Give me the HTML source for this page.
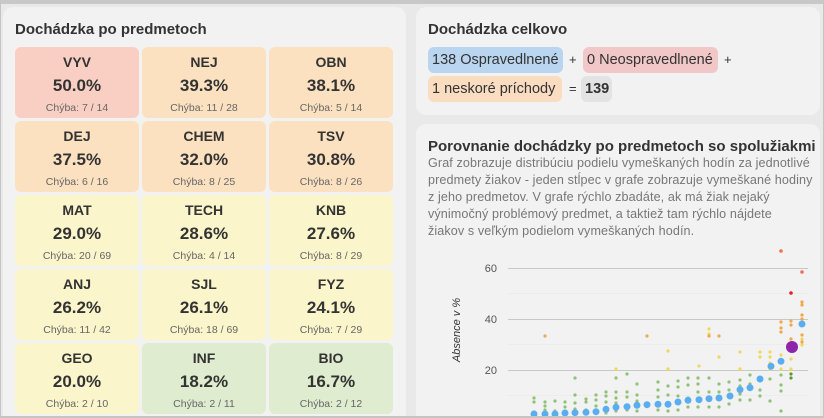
<!DOCTYPE html>
<html style="width:824px;height:418px;overflow:hidden"><head><meta charset="utf-8"><style>
body{margin:0;width:824px;height:418px;overflow:hidden;background:#e9e9e9;font-family:"Liberation Sans",sans-serif;color:#333;position:relative}
.frame{position:absolute;left:0;top:0;border:1px solid #c4c4c4;border-top:4px solid #c8c8c8;border-bottom:2px solid #c4c4c4;box-sizing:border-box;width:824px;height:418px;z-index:5}
.panel{position:absolute;background:#f2f2f2;border-radius:10px}
h2{margin:0;font-size:15px;font-weight:bold;color:#333;position:absolute}
.t{position:absolute;width:124px;height:71px;border-radius:6px;text-align:center}
.t .n{position:absolute;top:7px;width:100%;font-size:14px;font-weight:bold}
.t .p{position:absolute;top:29px;width:100%;font-size:17px;font-weight:bold}
.t .c{position:absolute;top:55px;width:100%;font-size:10.5px;color:#666}
.r{background:#f9cfc3}.o{background:#fbe1c0}.y{background:#faf5cb}.g{background:#dfeccf}
.pill{position:absolute;height:26px;line-height:26px;border-radius:6px;font-size:14.5px;padding:0 4px;box-sizing:border-box;white-space:nowrap}
.op{position:absolute;font-size:13px;line-height:26px}
.desc{position:absolute;left:428px;top:155px;width:390px;font-size:12.6px;line-height:17px;color:#777;white-space:nowrap;letter-spacing:0.1px}
</style></head><body>
<div class="frame"></div>
<div class="panel" style="left:3px;top:7px;width:403px;height:411px;border-radius:10px 10px 0 0"></div>
<h2 style="left:15px;top:21px">Dochádzka po predmetoch</h2>

<div class="t r" style="left:15px;top:47px"><div class="n">VYV</div><div class="p">50.0%</div><div class="c">Chýba: 7 / 14</div></div>
<div class="t o" style="left:142px;top:47px"><div class="n">NEJ</div><div class="p">39.3%</div><div class="c">Chýba: 11 / 28</div></div>
<div class="t o" style="left:269px;top:47px"><div class="n">OBN</div><div class="p">38.1%</div><div class="c">Chýba: 5 / 14</div></div>
<div class="t o" style="left:15px;top:121px"><div class="n">DEJ</div><div class="p">37.5%</div><div class="c">Chýba: 6 / 16</div></div>
<div class="t o" style="left:142px;top:121px"><div class="n">CHEM</div><div class="p">32.0%</div><div class="c">Chýba: 8 / 25</div></div>
<div class="t o" style="left:269px;top:121px"><div class="n">TSV</div><div class="p">30.8%</div><div class="c">Chýba: 8 / 26</div></div>
<div class="t y" style="left:15px;top:195px"><div class="n">MAT</div><div class="p">29.0%</div><div class="c">Chýba: 20 / 69</div></div>
<div class="t y" style="left:142px;top:195px"><div class="n">TECH</div><div class="p">28.6%</div><div class="c">Chýba: 4 / 14</div></div>
<div class="t y" style="left:269px;top:195px"><div class="n">KNB</div><div class="p">27.6%</div><div class="c">Chýba: 8 / 29</div></div>
<div class="t y" style="left:15px;top:269px"><div class="n">ANJ</div><div class="p">26.2%</div><div class="c">Chýba: 11 / 42</div></div>
<div class="t y" style="left:142px;top:269px"><div class="n">SJL</div><div class="p">26.1%</div><div class="c">Chýba: 18 / 69</div></div>
<div class="t y" style="left:269px;top:269px"><div class="n">FYZ</div><div class="p">24.1%</div><div class="c">Chýba: 7 / 29</div></div>
<div class="t y" style="left:15px;top:343px;height:71px"><div class="n">GEO</div><div class="p">20.0%</div><div class="c">Chýba: 2 / 10</div></div>
<div class="t g" style="left:142px;top:343px"><div class="n">INF</div><div class="p">18.2%</div><div class="c">Chýba: 2 / 11</div></div>
<div class="t g" style="left:269px;top:343px"><div class="n">BIO</div><div class="p">16.7%</div><div class="c">Chýba: 2 / 12</div></div>

<div class="panel" style="left:416px;top:7px;width:404px;height:108px"></div>
<h2 style="left:428px;top:21px">Dochádzka celkovo</h2>
<div class="pill" style="left:428px;top:47px;width:135px;background:#b9d5ef">138 Ospravedlnené</div>
<div class="op" style="left:569px;top:47px">+</div>
<div class="pill" style="left:583px;top:47px;width:135px;background:#f1c7c7">0 Neospravedlnené</div>
<div class="op" style="left:724px;top:47px">+</div>
<div class="pill" style="left:428px;top:76px;width:134px;background:#fadcc0">1 neskoré príchody</div>
<div class="op" style="left:569px;top:76px">=</div>
<div class="pill" style="left:581px;top:76px;width:31px;background:#e3e3e3;font-weight:bold">139</div>

<div class="panel" style="left:416px;top:124px;width:404px;height:294px;border-radius:10px 10px 0 0"></div>
<h2 style="left:428px;top:138px">Porovnanie dochádzky po predmetoch so spolužiakmi</h2>
<div class="desc">Graf zobrazuje distribúciu podielu vymeškaných hodín za jednotlivé<br>predmety žiakov - jeden stĺpec v grafe zobrazuje vymeškané hodiny<br>z jeho predmetov. V grafe rýchlo zbadáte, ak má žiak nejaký<br>výnimočný problémový predmet, a taktiež tam rýchlo nájdete<br>žiakov s veľkým podielom vymeškaných hodín.</div>

<svg style="position:absolute;left:0;top:0" width="824" height="418">
<g stroke="#ececec" stroke-width="1"><line x1="508" y1="293.5" x2="808" y2="293.5"/><line x1="508" y1="344.5" x2="808" y2="344.5"/><line x1="508" y1="395.5" x2="808" y2="395.5"/></g>
<g stroke="#c8c8c8" stroke-width="1"><line x1="508" y1="268.5" x2="808" y2="268.5"/><line x1="508" y1="319.5" x2="808" y2="319.5"/><line x1="508" y1="370.5" x2="808" y2="370.5"/></g>
<g font-size="11" fill="#555" text-anchor="end" font-family="Liberation Sans"><text x="497" y="272">60</text><text x="497" y="323">40</text><text x="497" y="374">20</text></g>
<text transform="translate(460,330) rotate(-90)" font-size="11" font-style="italic" fill="#333" text-anchor="middle" font-family="Liberation Sans">Absence v %</text>
<g fill="#8fc177">
<circle cx="534" cy="398" r="1.6"/><circle cx="534" cy="402" r="1.6"/><circle cx="534" cy="412" r="1.6"/>
<circle cx="545" cy="402" r="1.6"/><circle cx="545" cy="406" r="1.6"/><circle cx="545" cy="410" r="1.6"/>
<circle cx="555" cy="401" r="1.6"/><circle cx="555" cy="411" r="1.6"/>
<circle cx="565" cy="402" r="1.6"/><circle cx="565" cy="407" r="1.6"/><circle cx="565" cy="411" r="1.6"/>
<circle cx="575" cy="378" r="1.6"/><circle cx="575" cy="395" r="1.6"/><circle cx="575" cy="403" r="1.6"/><circle cx="575" cy="409" r="1.6"/>
<circle cx="586" cy="399" r="1.6"/><circle cx="586" cy="402" r="1.6"/><circle cx="586" cy="410" r="1.6"/>
<circle cx="596" cy="395" r="1.6"/><circle cx="596" cy="400" r="1.6"/><circle cx="596" cy="406" r="1.6"/>
<circle cx="606" cy="392" r="1.6"/><circle cx="606" cy="396" r="1.6"/><circle cx="606" cy="402" r="1.6"/><circle cx="606" cy="413" r="1.6"/>
<circle cx="616" cy="378" r="1.6"/><circle cx="616" cy="392" r="1.6"/><circle cx="616" cy="398" r="1.6"/><circle cx="616" cy="403" r="1.6"/><circle cx="616" cy="411" r="1.6"/>
<circle cx="627" cy="374" r="1.6"/><circle cx="627" cy="392" r="1.6"/><circle cx="627" cy="397" r="1.6"/><circle cx="627" cy="410" r="1.6"/>
<circle cx="637" cy="384" r="1.6"/><circle cx="637" cy="395" r="1.6"/><circle cx="637" cy="401" r="1.6"/><circle cx="637" cy="411" r="1.6"/>
<circle cx="658" cy="382" r="1.6"/><circle cx="658" cy="390" r="1.6"/><circle cx="658" cy="397" r="1.6"/><circle cx="658" cy="410" r="1.6"/>
<circle cx="668" cy="386" r="1.6"/><circle cx="668" cy="395" r="1.6"/><circle cx="668" cy="411" r="1.6"/>
<circle cx="678" cy="381" r="1.6"/><circle cx="678" cy="387" r="1.6"/><circle cx="678" cy="396" r="1.6"/><circle cx="678" cy="410" r="1.6"/>
<circle cx="688" cy="378" r="1.6"/><circle cx="688" cy="385" r="1.6"/><circle cx="688" cy="398" r="1.6"/><circle cx="688" cy="407" r="1.6"/>
<circle cx="698" cy="378" r="1.6"/><circle cx="698" cy="384" r="1.6"/><circle cx="698" cy="392" r="1.6"/><circle cx="698" cy="407" r="1.6"/>
<circle cx="709" cy="378" r="1.6"/><circle cx="709" cy="392" r="1.6"/><circle cx="709" cy="407" r="1.6"/>
<circle cx="719" cy="384" r="1.6"/><circle cx="719" cy="392" r="1.6"/><circle cx="719" cy="407" r="1.6"/>
<circle cx="729" cy="382" r="1.6"/><circle cx="729" cy="390" r="1.6"/><circle cx="729" cy="404" r="1.6"/>
<circle cx="740" cy="380" r="1.6"/><circle cx="740" cy="386" r="1.6"/><circle cx="740" cy="394" r="1.6"/><circle cx="740" cy="400" r="1.6"/>
<circle cx="750" cy="375" r="1.6"/><circle cx="750" cy="384" r="1.6"/><circle cx="750" cy="400" r="1.6"/>
<circle cx="760" cy="378" r="1.6"/><circle cx="760" cy="390" r="1.6"/><circle cx="760" cy="396" r="1.6"/>
<circle cx="770" cy="379" r="1.6"/><circle cx="770" cy="401" r="1.6"/>
<circle cx="781" cy="375" r="1.6"/><circle cx="781" cy="385" r="1.6"/><circle cx="781" cy="391" r="1.6"/><circle cx="781" cy="411" r="1.6"/>
</g>
<g fill="#5a9a32"><circle cx="791" cy="374" r="1.6"/><circle cx="791" cy="378" r="1.6"/></g>
<g fill="#f0d95a">
<circle cx="616" cy="369" r="1.6"/><circle cx="668" cy="351" r="1.6"/><circle cx="668" cy="369" r="1.6"/>
<circle cx="699" cy="366" r="1.6"/><circle cx="709" cy="329" r="1.6"/><circle cx="709" cy="334" r="1.6"/>
<circle cx="719" cy="357" r="1.6"/><circle cx="740" cy="352" r="1.6"/><circle cx="740" cy="369" r="1.6"/>
<circle cx="770" cy="352" r="1.6"/><circle cx="770" cy="357" r="1.6"/><circle cx="770" cy="363" r="1.6"/><circle cx="770" cy="369" r="1.6"/><circle cx="760" cy="352" r="1.6"/><circle cx="760" cy="357" r="1.6"/>
<circle cx="781" cy="355" r="1.6"/><circle cx="781" cy="369" r="1.6"/><circle cx="791" cy="359" r="1.6"/><circle cx="791" cy="369" r="1.6"/>
<circle cx="802" cy="339" r="1.6"/><circle cx="802" cy="345" r="1.6"/>
</g>
<g fill="#f0a848">
<circle cx="545" cy="336" r="1.6"/><circle cx="647" cy="336" r="1.6"/><circle cx="709" cy="336" r="1.6"/><circle cx="719" cy="336" r="1.6"/>
<circle cx="781" cy="322" r="1.6"/><circle cx="781" cy="328" r="1.6"/><circle cx="781" cy="332" r="1.6"/>
<circle cx="791" cy="321" r="1.6"/><circle cx="791" cy="325" r="1.6"/><circle cx="791" cy="339" r="1.6"/>
<circle cx="802" cy="302" r="1.6"/><circle cx="802" cy="305" r="1.6"/><circle cx="802" cy="315" r="1.6"/><circle cx="802" cy="319" r="1.6"/><circle cx="802" cy="335" r="1.6"/><circle cx="802" cy="342" r="1.6"/>
</g>
<g fill="#f07050"><circle cx="781" cy="251" r="1.8"/><circle cx="802" cy="272" r="1.8"/></g>
<circle cx="791" cy="293" r="1.8" fill="#e82020"/>
<g fill="#5aaef0">
<circle cx="534" cy="414" r="3.5"/><circle cx="545" cy="414" r="3.5"/><circle cx="555" cy="414" r="3.5"/><circle cx="565" cy="413" r="3.5"/><circle cx="575" cy="412.7" r="3.5"/><circle cx="586" cy="412.3" r="3.5"/><circle cx="596" cy="411.7" r="3.5"/><circle cx="606" cy="409.3" r="3.5"/><circle cx="616" cy="407.3" r="3.5"/><circle cx="627" cy="406.7" r="3.5"/><circle cx="637" cy="405.3" r="3.5"/><circle cx="647" cy="404.7" r="3.5"/><circle cx="658" cy="404.3" r="3.5"/><circle cx="668" cy="404.3" r="3.5"/><circle cx="678" cy="402" r="3.5"/><circle cx="688" cy="400.3" r="3.5"/><circle cx="699" cy="399.7" r="3.5"/><circle cx="709" cy="398.7" r="3.5"/><circle cx="719" cy="398" r="3.5"/><circle cx="730" cy="396" r="3.5"/><circle cx="740" cy="389.7" r="3.5"/><circle cx="750" cy="387.7" r="3.5"/><circle cx="760" cy="379" r="3.5"/><circle cx="771" cy="366.3" r="3.5"/><circle cx="781" cy="361.3" r="3.5"/><circle cx="802" cy="324" r="3.5"/>
</g>
<circle cx="792" cy="347" r="6" fill="#8e24aa"/>
</svg>
</body></html>
